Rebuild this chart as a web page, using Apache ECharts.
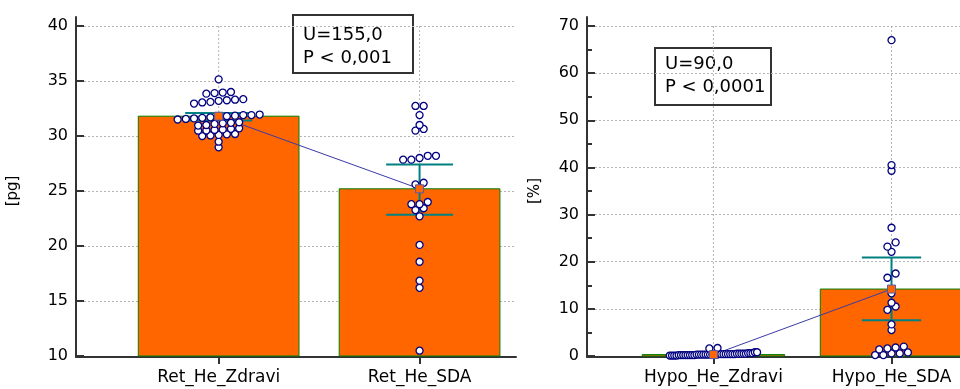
<!DOCTYPE html>
<html><head><meta charset="utf-8">
<script src="https://cdn.jsdelivr.net/npm/echarts@6/dist/echarts.min.js"></script>
<style>html,body{margin:0;padding:0;background:#fff}#c{width:960px;height:389px}</style>
</head><body><div id="c"></div>
<script>
// ---------- data ----------
const retCategories = ['Ret_He_Zdravi', 'Ret_He_SDA'];
const hypoCategories = ['Hypo_He_Zdravi', 'Hypo_He_SDA'];
const retTicks = [10, 15, 20, 25, 30, 35, 40];
const hypoTicks = [0, 10, 20, 30, 40, 50, 60, 70];

const retBars = [31.8, 25.2];
const retCILow = [31.4, 22.85];
const retCIHigh = [32.1, 27.4];
const hypoBars = [0.3, 14.2];
const hypoCILow = [0.2, 7.6];
const hypoCIHigh = [0.4, 20.9];

const retZdravi = [28.97, 29.48, 30.0, 30.05, 30.1, 30.15, 30.18, 30.48, 30.5, 30.55, 30.6, 30.65, 30.7,
  30.95, 31.0, 31.1, 31.15, 31.2, 31.25, 31.5, 31.55, 31.6, 31.65, 31.7, 31.75, 31.8, 31.85, 31.9, 31.9, 31.95,
  32.95, 33.05, 33.1, 33.2, 33.25, 33.3, 33.35, 33.85, 33.9, 33.95, 34.0, 35.15];
const retSDA = [10.48, 16.2, 16.85, 18.57, 20.1, 22.7, 23.27, 23.43, 23.8, 23.8, 24.0, 25.6, 25.75,
  27.85, 27.85, 28.0, 28.2, 28.2, 30.49, 30.64, 31.0, 31.9, 32.73, 32.73];
const hypoZdravi = [0.1, 0.1, 0.1, 0.1, 0.2, 0.2, 0.2, 0.2, 0.2, 0.2, 0.2, 0.2,
  0.3, 0.3, 0.3, 0.3, 0.3, 0.3, 0.3, 0.3, 0.3, 0.3, 0.4, 0.4, 0.4, 0.4, 0.4, 0.4, 0.4, 0.4,
  0.5, 0.5, 0.5, 0.5, 0.5, 0.6, 0.6, 0.6, 0.8, 0.8, 1.6, 1.7];
const hypoSDA = [0.2, 0.2, 0.55, 0.55, 0.75, 1.4, 1.6, 1.8, 2.0, 5.5, 6.7, 9.8, 10.5, 11.3, 13.3,
  16.6, 17.5, 22.1, 23.2, 24.1, 27.2, 39.3, 40.5, 67.0];

const retStats = ['U=155,0', 'P < 0,001'];
const hypoStats = ['U=90,0', 'P < 0,0001'];

// ---------- layout / style ----------
const FONT = 'DejaVu Sans';
const GL = {left: 76, top: 26, width: 440, height: 330};
const GR = {left: 587, top: 26, width: 390, height: 330};
const X_MIN = 0.29, X_MAX = 2.48;
const DOT = 8.2, ROW_T = 5, ROW_FRAC = 0.49;
const ORANGE = '#FF6600', GREEN = '#008000', TEAL = '#008080', NAVY = '#000080';
const AXIS_C = '#333333', GRID_C = '#b4b4b4';

function swarm(values, cat, pxY, pxX) {
  const sorted = values.slice().sort((a, b) => a - b);
  const rows = [];
  let cur = null;
  for (const v of sorted) {
    if (cur && (v - cur[0]) * pxY < ROW_T) cur.push(v);
    else { cur = [v]; rows.push(cur); }
  }
  const out = [];
  const maxSpan = ROW_FRAC * pxX;
  for (const row of rows) {
    const n = row.length;
    const s = n > 1 ? Math.min(DOT, maxSpan / (n - 1)) : 0;
    row.forEach((v, i) => out.push([cat + (i - (n - 1) / 2) * s / pxX, v]));
  }
  return out;
}

function panel(idx, g, cats, ticks, bars, lo, hi, g1, g2, yName, nameGap, minor) {
  const yMin = ticks[0], yMax = ticks[ticks.length - 1];
  const pxY = g.height / (yMax - yMin);
  const pxX = g.width / (X_MAX - X_MIN);
  const gA = idx * 2, gB = idx * 2 + 1;
  const grids = [
    {left: g.left, top: g.top, width: g.width, height: g.height, outerBoundsMode: 'none', containLabel: false},
    {left: g.left, top: g.top - 9, width: g.width, height: g.height + 10, outerBoundsMode: 'none', containLabel: false}
  ];
  const xAxes = [
    {gridIndex: gA, type: 'value', min: X_MIN, max: X_MAX,
      axisLine: {show: false},
      axisTick: {show: true, customValues: [1, 2], length: 8, lineStyle: {color: AXIS_C, width: 2}},
      axisLabel: {customValues: [1, 2], formatter: v => cats[Math.round(v) - 1] || '', margin: 13,
        fontSize: 17, color: '#000', fontFamily: FONT},
      splitLine: {show: false}},
    {gridIndex: gB, type: 'value', min: 0, max: 1,
      axisLine: {show: true, lineStyle: {color: AXIS_C, width: 2}},
      axisTick: {show: false}, axisLabel: {show: false}, splitLine: {show: false}}
  ];
  const yAxes = [
    {gridIndex: gA, type: 'value', min: yMin, max: yMax, interval: ticks[1] - ticks[0],
      axisLine: {show: false},
      axisTick: {show: true, inside: true, length: 8, lineStyle: {color: AXIS_C, width: 2}},
      minorTick: {show: minor, splitNumber: 2, length: 5, lineStyle: {color: AXIS_C, width: 2}},
      axisLabel: {margin: 8, fontSize: 16, color: '#000', fontFamily: FONT},
      splitLine: {show: true, lineStyle: {color: GRID_C, type: [2, 2], width: 1}},
      name: yName, nameLocation: 'middle', nameGap: nameGap,
      nameTextStyle: {fontSize: 15, color: '#000', fontFamily: FONT}},
    {gridIndex: gB, type: 'value', min: 0, max: 1,
      axisLine: {show: true, lineStyle: {color: AXIS_C, width: 2}},
      axisTick: {show: false}, axisLabel: {show: false}, splitLine: {show: false}}
  ];
  const xi = gA, yi = gA;
  const barData = bars.map((v, i) => [i + 1, v]);
  const series = [
    {type: 'custom', xAxisIndex: xi, yAxisIndex: yi, z: 1, silent: true,
      data: cats.map((c, i) => [i + 1]),
      renderItem: (p, api) => {
        const a = api.coord([api.value(0), yMax]), b = api.coord([api.value(0), yMin]);
        return {type: 'line', shape: {x1: a[0], y1: a[1], x2: b[0], y2: b[1]},
          style: {stroke: GRID_C, lineWidth: 1, lineDash: [2, 2]}};
      }},
    {type: 'custom', xAxisIndex: xi, yAxisIndex: yi, z: 2, silent: true, data: barData,
      renderItem: (p, api) => {
        const x = api.value(0);
        const top = api.coord([x, api.value(1)]), base = api.coord([x, yMin]);
        const w = api.size([1, 0])[0] * 0.8;
        return {type: 'rect', shape: {x: top[0] - w / 2, y: top[1], width: w, height: base[1] - top[1]},
          style: {fill: ORANGE, stroke: GREEN, lineWidth: 1}};
      }},
    {type: 'custom', xAxisIndex: xi, yAxisIndex: yi, z: 3, silent: true,
      data: bars.map((v, i) => [i + 1, lo[i], hi[i]]),
      renderItem: (p, api) => {
        const x = api.value(0);
        const l = api.coord([x, api.value(1)]), h = api.coord([x, api.value(2)]);
        const cw = api.size([1, 0])[0] * 0.333;
        const st = {stroke: TEAL, lineWidth: 2};
        return {type: 'group', children: [
          {type: 'line', shape: {x1: l[0], y1: l[1], x2: h[0], y2: h[1]}, style: st},
          {type: 'line', shape: {x1: l[0] - cw / 2, y1: l[1], x2: l[0] + cw / 2, y2: l[1]}, style: st},
          {type: 'line', shape: {x1: h[0] - cw / 2, y1: h[1], x2: h[0] + cw / 2, y2: h[1]}, style: st}
        ]};
      }},
    {type: 'line', xAxisIndex: xi, yAxisIndex: yi, z: 4, silent: true, data: barData,
      showSymbol: false, symbol: 'none', lineStyle: {color: '#3a3aa8', width: 1}},
    {type: 'scatter', xAxisIndex: xi, yAxisIndex: yi, z: 5, silent: true,
      data: swarm(g1, 1, pxY, pxX).concat(swarm(g2, 2, pxY, pxX)),
      symbol: 'circle', symbolSize: 7,
      itemStyle: {color: '#ffffff', borderColor: NAVY, borderWidth: 1.3, opacity: 1}},
    {type: 'scatter', xAxisIndex: xi, yAxisIndex: yi, z: 6, silent: true, data: barData,
      symbol: 'rect', symbolSize: 8,
      itemStyle: {color: ORANGE, borderColor: '#5a5aa8', borderWidth: 1, opacity: 1}}
  ];
  return {grids, xAxes, yAxes, series};
}

const P1 = panel(0, GL, retCategories, retTicks, retBars, retCILow, retCIHigh, retZdravi, retSDA, '[pg]', 55, false);
const P2 = panel(1, GR, hypoCategories, hypoTicks, hypoBars, hypoCILow, hypoCIHigh, hypoZdravi, hypoSDA, '[%]', 44, true);

function statBox(x, y, w, h, lines, ty) {
  return {type: 'group', z: 50, children: [
    {type: 'rect', shape: {x: x, y: y, width: w, height: h},
      style: {fill: '#fff', stroke: '#333', lineWidth: 2}},
    {type: 'text', x: x + 10, y: ty,
      style: {text: lines.join('\n'), font: '18px "' + FONT + '"', fill: '#000', lineHeight: 23,
        verticalAlign: 'top', align: 'left'}}
  ]};
}

const chart = echarts.init(document.getElementById('c'));
chart.setOption({
  animation: false,
  backgroundColor: '#ffffff',
  textStyle: {fontFamily: FONT},
  grid: P1.grids.concat(P2.grids),
  xAxis: P1.xAxes.concat(P2.xAxes),
  yAxis: P1.yAxes.concat(P2.yAxes),
  series: P1.series.concat(P2.series),
  graphic: [
    statBox(293, 15, 120, 58, retStats, 24),
    statBox(655, 48, 116, 57, hypoStats, 53)
  ]
});
</script>
</body></html>
